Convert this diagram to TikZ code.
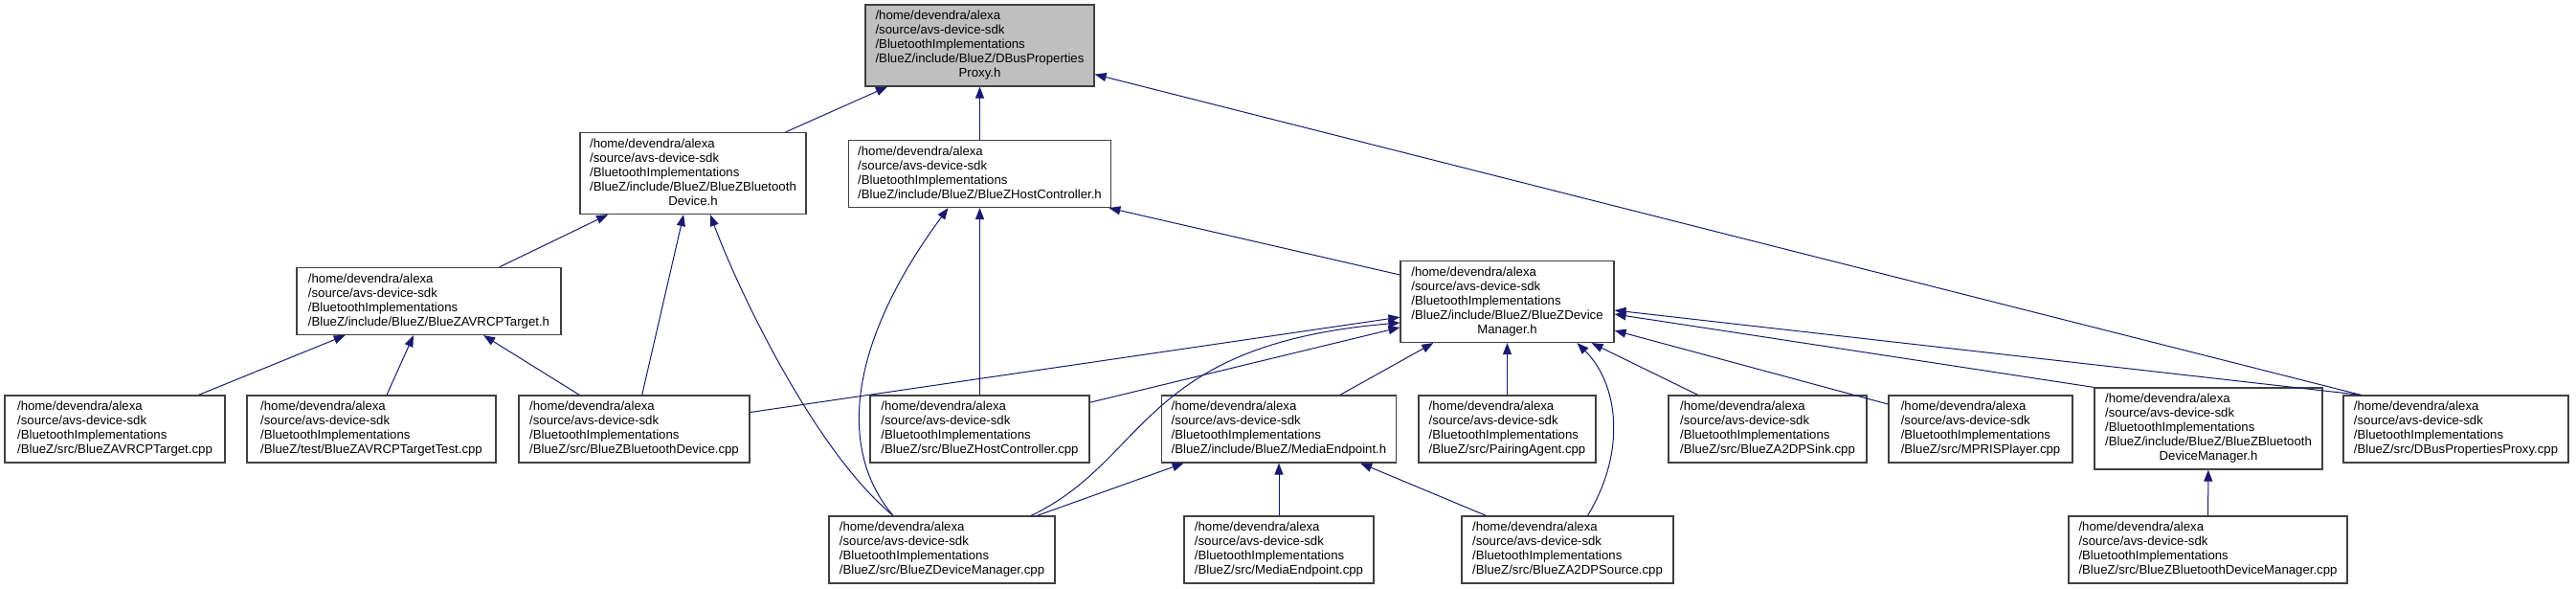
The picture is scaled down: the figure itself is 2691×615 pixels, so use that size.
\documentclass[tikz,border=0pt]{standalone}
\usepackage{fontspec}
\setmainfont{Liberation Sans}
\usetikzlibrary{arrows.meta}
\definecolor{navy}{HTML}{191970}
\definecolor{rim}{HTML}{404040}
\newcommand{\bzpath}[1]{\begin{tabular}{@{}l@{}}/home/devendra/alexa\\/source/avs-device-sdk\\/BluetoothImplementations\\#1\end{tabular}}
\newcommand{\tailln}[1]{\multicolumn{1}{@{}c@{}}{#1}}

\begin{document}
\begin{tikzpicture}[x=1pt, y=-1pt, file/.style={rectangle, draw=rim, line width=1.2pt, fill=white, inner xsep=10pt, inner ysep=5pt, font=\fontsize{13.2}{15}\selectfont}, focus/.style={file, fill=gray!50}, dep/.style={->, draw=navy, line width=1pt}, >={Triangle[length=12pt,width=9pt]}]
\useasboundingbox (0,0) rectangle (2691,615);
\node[focus, minimum width=239] (root) at (1023.5,47.5) {\bzpath{/BlueZ/include/BlueZ/DBusProperties\\\tailln{Proxy.h}}};
\node[file, minimum width=236] (bdh) at (724,181) {\bzpath{/BlueZ/include/BlueZ/BlueZBluetooth\\\tailln{Device.h}}};
\node[file, minimum width=274] (hch) at (1023.5,181.5) {\bzpath{/BlueZ/include/BlueZ/BlueZHostController.h}};
\node[file, minimum width=276] (avh) at (448,314.5) {\bzpath{/BlueZ/include/BlueZ/BlueZAVRCPTarget.h}};
\node[file, minimum width=223] (dmh) at (1574.5,315) {\bzpath{/BlueZ/include/BlueZ/BlueZDevice\\\tailln{Manager.h}}};
\node[file, minimum width=230] (avcpp) at (120,448) {\bzpath{/BlueZ/src/BlueZAVRCPTarget.cpp}};
\node[file, minimum width=260] (avtest) at (388,448) {\bzpath{/BlueZ/test/BlueZAVRCPTargetTest.cpp}};
\node[file, minimum width=241] (bdcpp) at (662.5,448) {\bzpath{/BlueZ/src/BlueZBluetoothDevice.cpp}};
\node[file, minimum width=229] (hccpp) at (1023.5,448) {\bzpath{/BlueZ/src/BlueZHostController.cpp}};
\node[file, minimum width=244] (meh) at (1336,448) {\bzpath{/BlueZ/include/BlueZ/MediaEndpoint.h}};
\node[file, minimum width=185] (pair) at (1574.5,448) {\bzpath{/BlueZ/src/PairingAgent.cpp}};
\node[file, minimum width=207] (sink) at (1846.5,448) {\bzpath{/BlueZ/src/BlueZA2DPSink.cpp}};
\node[file, minimum width=192] (mpris) at (2069,448) {\bzpath{/BlueZ/src/MPRISPlayer.cpp}};
\node[file, minimum width=238] (bdmh) at (2307,447.5) {\bzpath{/BlueZ/include/BlueZ/BlueZBluetooth\\\tailln{DeviceManager.h}}};
\node[file, minimum width=235] (dbuscpp) at (2565.5,448) {\bzpath{/BlueZ/src/DBusPropertiesProxy.cpp}};
\node[file, minimum width=236] (dmcpp) at (984,574) {\bzpath{/BlueZ/src/BlueZDeviceManager.cpp}};
\node[file, minimum width=198] (mecpp) at (1336,574) {\bzpath{/BlueZ/src/MediaEndpoint.cpp}};
\node[file, minimum width=221] (srccpp) at (1637.5,574) {\bzpath{/BlueZ/src/BlueZA2DPSource.cpp}};
\node[file, minimum width=291] (bdmcpp) at (2306.5,574) {\bzpath{/BlueZ/src/BlueZBluetoothDeviceManager.cpp}};
\draw[dep] (bdh) -- (root); \draw[dep] (hch) -- (root); \draw[dep] ([xshift=19]dbuscpp.north west) -- (root);
\draw[dep] (avh) -- (bdh); \draw[dep] (bdcpp) -- (bdh);
\draw[dep] ([xshift=-51]dmcpp.north) .. controls (850,470) and (770,300) .. ([xshift=18]bdh.south);
\draw[dep] ([yshift=28]dmh.west) -- ([xshift=-3]hch.south east);
\draw[dep] ([xshift=-51]dmcpp.north) .. controls (875,470) and (885,360) .. ([xshift=-33]hch.south);
\draw[dep] (hccpp) -- (hch);
\draw[dep] (avcpp) -- (avh); \draw[dep] (avtest) -- (avh); \draw[dep] (bdcpp) -- (avh);
\draw[dep] (bdcpp) -- (dmh); \draw[dep] (hccpp) -- (dmh);
\draw[dep] ([xshift=93]dmcpp.north) .. controls (1200,480) and (1190,360) .. ([yshift=-22]dmh.west);
\draw[dep] (meh) -- (dmh); \draw[dep] (pair) -- (dmh);
\draw[dep] ([xshift=21]srccpp.north) .. controls (1700,470) and (1690,400) .. ([xshift=73]dmh.south);
\draw[dep] (sink) -- (dmh); \draw[dep] (mpris) -- (dmh);
\draw[dep] (bdmh.north west) -- ([yshift=-13]dmh.east);
\draw[dep] ([xshift=19]dbuscpp.north west) -- ([yshift=-9]dmh.east);
\draw[dep] (dmcpp) -- (meh); \draw[dep] (mecpp) -- (meh); \draw[dep] (srccpp) -- (meh);
\draw[dep] (bdmcpp) -- (bdmh);
\end{tikzpicture}
\end{document}
